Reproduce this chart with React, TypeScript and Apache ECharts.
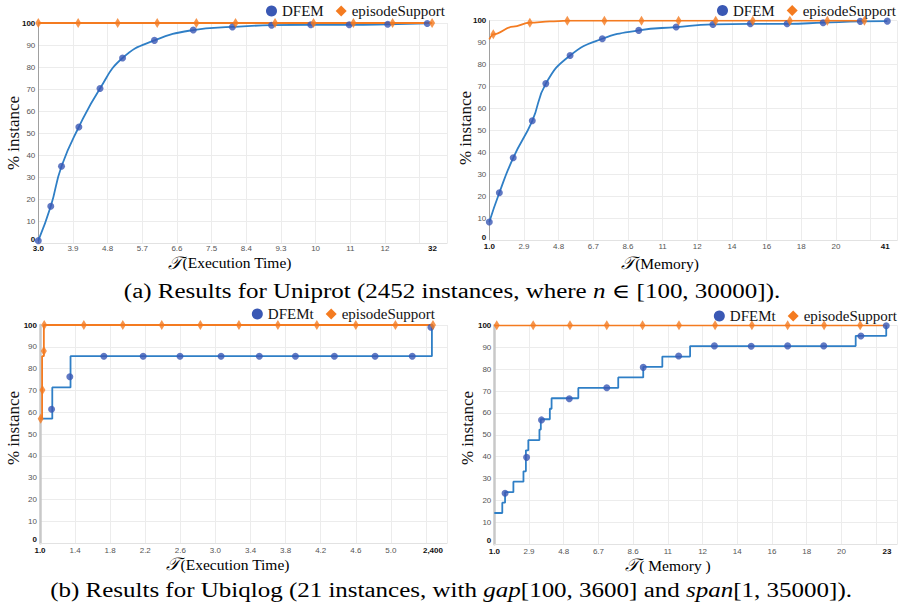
import React, { useEffect, useRef } from 'react';
import * as echarts from 'echarts';

// ---------- tick labels (label text and its index position on the axis) ----------
const execLabelsA = ['3.0', '3.9', '4.8', '5.7', '6.6', '7.5', '8.4', '9.3', '10', '11', '12', '32'];
const execPosA = [0, 1, 2, 3, 4, 5, 6, 7, 8, 9, 10, 11.37];
const memLabelsA = ['1.0', '2.9', '4.8', '6.7', '8.6', '11', '12', '14', '16', '18', '20', '41'];
const memPosA = [0, 1, 2, 3, 4, 5, 6, 7, 8, 9, 10, 11.42];
const execLabelsB = ['1.0', '1.4', '1.8', '2.2', '2.6', '3.0', '3.4', '3.8', '4.2', '4.6', '5.0', '2,400'];
const execPosB = [0, 1, 2, 3, 4, 5, 6, 7, 8, 9, 10, 11.2];
const memLabelsB = ['1.0', '2.9', '4.8', '6.7', '8.6', '11', '12', '14', '16', '18', '20', '23'];
const memPosB = [0, 1, 2, 3, 4, 5, 6, 7, 8, 9, 10, 11.31];
const yTicks = [0, 10, 20, 30, 40, 50, 60, 70, 80, 90, 100];

// ---------- (a) Uniprot, execution time ----------
const dfemExecA = [[0, 1.2], [0.36, 16.8], [0.67, 35], [1.17, 52.8], [1.78, 70.3], [2.43, 84.1], [3.35, 92.1], [4.47, 96.8], [5.6, 98.2], [6.73, 99], [7.86, 99.2], [8.97, 99.2], [10.08, 99.4], [11.22, 99.8]];
const epiExecALine = [[0, 100], [11.36, 100]];
const epiExecAMarks = [[0, 100], [1.15, 100], [2.29, 100], [3.43, 100], [4.56, 100], [5.69, 100], [6.83, 100], [7.94, 100], [9.09, 100], [10.22, 100], [11.36, 100]];

// ---------- (a) Uniprot, memory ----------
const dfemMemA = [[0, 8.5], [0.29, 21.8], [0.69, 37.7], [1.24, 54.5], [1.63, 71.4], [2.33, 84.2], [3.26, 91.8], [4.31, 95.6], [5.39, 97.1], [6.45, 98.3], [7.53, 98.6], [8.59, 98.6], [9.63, 99.1], [10.7, 99.7], [11.48, 99.8]];
const epiMemALine = [[0, 91.5], [0.115, 93.8], [0.69, 97.3], [1.17, 99.1], [1.75, 99.7], [2.25, 100], [10.82, 100]];
const epiMemAMarks = [[0.115, 93.8], [1.17, 99.1], [2.25, 100], [3.32, 100], [4.39, 100], [5.46, 100], [6.53, 100], [7.6, 100], [8.67, 100], [9.75, 100], [10.82, 100]];

// ---------- (b) Ubiqlog, execution time (step CDFs) ----------
const dfemtExecBStep = [[0, 57.1], [0.35, 71.4], [0.87, 85.7], [11.17, 100]];
const dfemtExecBMarks = [[0.33, 61.4], [0.85, 76.3], [1.82, 85.7], [2.94, 85.7], [3.99, 85.7], [5.16, 85.7], [6.25, 85.7], [7.28, 85.7], [8.39, 85.7], [9.55, 85.7], [10.61, 85.7], [11.14, 99]];
const epiExecBStep = [[0, 57.1], [0.06, 85.7], [0.11, 100], [11.2, 100]];
const epiExecBMarks = [[0.02, 57.1], [0.07, 70.2], [0.11, 88.1], [0.12, 100], [1.25, 100], [2.36, 100], [3.47, 100], [4.57, 100], [5.67, 100], [6.78, 100], [7.89, 100], [9.0, 100], [10.13, 100], [11.2, 100]];

// ---------- (b) Ubiqlog, memory ----------
const dfemtMemBStep = [[0, 14.3], [0.23, 19.0], [0.31, 23.8], [0.55, 28.6], [0.84, 33.3], [0.91, 42.9], [0.98, 47.6], [1.3, 52.4], [1.34, 57.1], [1.6, 61.9], [1.65, 66.7], [2.42, 71.4], [3.57, 76.2], [4.29, 81.0], [4.84, 85.7], [5.64, 90.5], [10.41, 95.2], [11.29, 100]];
const dfemtMemBMarks = [[0.31, 23.3], [0.93, 39.7], [1.36, 56.8], [2.16, 66.5], [3.24, 71.5], [4.29, 80.8], [5.31, 86.0], [6.34, 90.6], [7.4, 90.4], [8.45, 90.6], [9.49, 90.6], [10.56, 95.1], [11.29, 99.8]];
const epiMemBLine = [[0, 100], [11.29, 100]];
const epiMemBMarks = [[0.07, 100], [1.12, 100], [2.18, 100], [3.24, 100], [4.27, 100], [5.32, 100], [6.36, 100], [7.42, 100], [8.45, 100], [9.5, 100], [10.54, 100]];

const SERIF = '"Liberation Serif", "DejaVu Serif", serif';
const SANS = '"Liberation Sans", Arial, sans-serif';
const LINE_BLUE = '#2f7fc6';
const MARK_BLUE = '#3a58b4';
const ORANGE = '#f47b20';

export default function App() {
  const ref = useRef<HTMLDivElement>(null);

  useEffect(() => {
    if (!ref.current) return;
    const chart = echarts.init(ref.current, null, { renderer: 'svg' });

    const panels = [
      { grid: { left: 38.3, top: 23, width: 408.7, height: 220.3 }, xMax: 11.79, labels: execLabelsA, pos: execPosA, axisColor: '#a0a0a0', axisWidth: 1, margin: 1.5,
        blue: 'DFEM', blueLine: dfemExecA, blueMarks: dfemExecA, blueStep: false, oLine: epiExecALine, oMarks: epiExecAMarks, oStep: false, legendRight: 458, legendTop: 3.5 },
      { grid: { left: 489.3, top: 20.7, width: 407.7, height: 220 }, xMax: 11.76, labels: memLabelsA, pos: memPosA, axisColor: '#a0a0a0', axisWidth: 1, margin: 1.5,
        blue: 'DFEM', blueLine: dfemMemA, blueMarks: dfemMemA, blueStep: false, oLine: epiMemALine, oMarks: epiMemAMarks, oStep: false, legendRight: 7, legendTop: 3 },
      { grid: { left: 40, top: 325, width: 407, height: 218.3 }, xMax: 11.6, labels: execLabelsB, pos: execPosB, axisColor: '#c8c8c8', axisWidth: 2.5, margin: 3,
        blue: 'DFEMt', blueLine: dfemtExecBStep, blueMarks: dfemtExecBMarks, blueStep: true, oLine: epiExecBStep, oMarks: epiExecBMarks, oStep: true, legendRight: 468, legendTop: 306.5 },
      { grid: { left: 494.3, top: 325.3, width: 402.7, height: 219 }, xMax: 11.6, labels: memLabelsB, pos: memPosB, axisColor: '#c8c8c8', axisWidth: 2.5, margin: 3,
        blue: 'DFEMt', blueLine: dfemtMemBStep, blueMarks: dfemtMemBMarks, blueStep: true, oLine: epiMemBLine, oMarks: epiMemBMarks, oStep: false, legendRight: 6, legendTop: 308.5 },
    ];

    const grid: any[] = [];
    const xAxis: any[] = [];
    const yAxis: any[] = [];
    const series: any[] = [];
    const legend: any[] = [];

    panels.forEach((p, i) => {
      grid.push({ ...p.grid, containLabel: false });
      const labels = p.labels;
      const pos = p.pos;
      xAxis.push({
        type: 'value', gridIndex: i, min: 0, max: p.xMax, interval: 1,
        axisLine: { show: true, onZero: false, lineStyle: { color: '#e2e2e2', width: 1 } },
        axisTick: { show: false },
        splitLine: { show: true, lineStyle: { color: '#ececec', width: 1 } },
        axisLabel: {
          customValues: pos,
          margin: p.margin,
          fontSize: 8, color: '#555', fontFamily: SANS,
          formatter: (v: number) => {
            const k = pos.findIndex((q) => Math.abs(q - v) < 1e-6);
            if (k < 0) return '';
            const t = labels[k];
            return k === 0 || k === labels.length - 1 ? `{b|${t}}` : t;
          },
          rich: { b: { fontWeight: 'bold', color: '#111', fontSize: 8, fontFamily: SANS } },
        },
      });
      yAxis.push({
        type: 'value', gridIndex: i, min: 0, max: 100, interval: 10,
        axisLine: { show: true, lineStyle: { color: p.axisColor, width: p.axisWidth } },
        axisTick: { show: false },
        splitLine: { show: true, lineStyle: { color: '#ececec', width: 1 } },
        axisLabel: {
          customValues: yTicks,
          margin: 3, fontSize: 8, color: '#555', fontFamily: SANS,
          formatter: (v: number) => (v === 0 ? `{z|0}` : v === 100 ? `{b|100}` : String(v)),
          rich: {
            b: { fontWeight: 'bold', color: '#111', fontSize: 8, fontFamily: SANS },
            z: { fontWeight: 'bold', color: '#111', fontSize: 8, fontFamily: SANS, padding: [0, 0, 7, 0] },
          },
        },
      });
      series.push({
        type: 'line', name: p.blue, xAxisIndex: i, yAxisIndex: i, data: p.blueLine,
        smooth: p.blueStep ? false : 0.5, step: p.blueStep ? 'end' : false,
        showSymbol: false, symbol: 'none', lineStyle: { color: LINE_BLUE, width: 1.8 }, itemStyle: { color: LINE_BLUE }, z: 2, silent: true,
      });
      series.push({
        type: 'line', name: 'episodeSupport', xAxisIndex: i, yAxisIndex: i, data: p.oLine,
        smooth: p.oStep ? false : 0.4, smoothMonotone: 'x', step: p.oStep ? 'end' : false,
        showSymbol: false, symbol: 'none', lineStyle: { color: ORANGE, width: 1.8 }, itemStyle: { color: ORANGE }, z: 3, silent: true,
      });
      series.push({
        type: 'scatter', name: p.blue, xAxisIndex: i, yAxisIndex: i, data: p.blueMarks,
        symbol: 'circle', symbolSize: 7, itemStyle: { color: MARK_BLUE }, z: 4, silent: true,
      });
      series.push({
        type: 'scatter', name: 'episodeSupport', xAxisIndex: i, yAxisIndex: i, data: p.oMarks,
        symbol: 'diamond', symbolSize: [6, 10], itemStyle: { color: ORANGE }, z: 5, silent: true,
      });
      legend.push({
        right: p.legendRight, top: p.legendTop, orient: 'horizontal', padding: 0,
        itemWidth: 11, itemHeight: 11, itemGap: 12, selectedMode: false,
        textStyle: { fontFamily: SERIF, fontSize: 15, color: '#111' },
        data: [
          { name: p.blue, icon: 'circle', itemStyle: { color: MARK_BLUE } },
          { name: 'episodeSupport', icon: 'diamond', itemStyle: { color: ORANGE } },
        ],
      });
    });

    const tau = { fontFamily: SERIF, fontSize: 18, fontStyle: 'italic', color: '#111' };
    const plain = { fontFamily: SERIF, fontSize: 15.5, color: '#111' };
    const ital = { fontFamily: SERIF, fontSize: 20, fontStyle: 'italic', color: '#111' };
    const cap = { fontFamily: SERIF, fontSize: 20, color: '#111' };

    const yName = (x: number, y: number) => ({
      type: 'text', x, y, rotation: Math.PI / 2,
      style: { text: '% instance', fontFamily: SERIF, fontSize: 17, fill: '#111', align: 'center', verticalAlign: 'middle' },
    });
    const xName = (x: number, y: number, t: string) => ({
      type: 'text', x, y,
      style: { text: `{t|𝒯}{p|${t}}`, align: 'center', verticalAlign: 'middle', rich: { t: tau, p: plain } },
    });

    const graphic = [
      yName(13, 133), yName(465, 128), yName(13, 428), yName(467, 428),
      xName(230, 262.5, '(Execution Time)'),
      xName(660, 263, '(Memory)'),
      xName(228, 564, '(Execution Time)'),
      xName(668, 565, '( Memory )'),
      {
        type: 'text', x: 452, y: 291, scaleX: 1.25,
        style: {
          text: '{c|(a) Results for Uniprot (2452 instances, where }{i|n}{c| ∈ [100, 30000]).}',
          align: 'center', verticalAlign: 'middle', rich: { c: cap, i: ital },
        },
      },
      {
        type: 'text', x: 451, y: 590, scaleX: 1.25,
        style: {
          text: '{c|(b) Results for Ubiqlog (21 instances, with }{i|gap}{c|[100, 3600] and }{i|span}{c|[1, 35000]).}',
          align: 'center', verticalAlign: 'middle', rich: { c: cap, i: ital },
        },
      },
    ];

    chart.setOption({
      animation: false,
      backgroundColor: '#ffffff',
      grid, xAxis, yAxis, series, legend, graphic,
    });

    return () => chart.dispose();
  }, []);

  return <div ref={ref} style={{ position: 'absolute', left: 0, top: 0, width: 903, height: 608 }} />;
}
